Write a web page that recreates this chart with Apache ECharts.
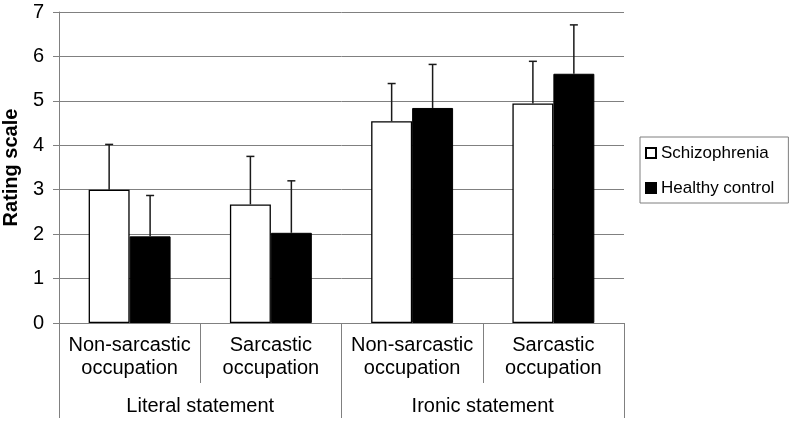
<!DOCTYPE html>
<html>
<head>
<meta charset="utf-8">
<script src="https://cdn.jsdelivr.net/npm/echarts@6/dist/echarts.min.js"></script>
<style>
html,body{margin:0;padding:0;background:#fff;}
#chart{width:794px;height:423px;}
</style>
</head>
<body>
<div id="chart"></div>
<script>
const categories = ['Non-sarcastic\noccupation', 'Sarcastic\noccupation', 'Non-sarcastic\noccupation', 'Sarcastic\noccupation'];
const groups = ['Literal statement', 'Ironic statement'];
const seriesNames = ['Schizophrenia', 'Healthy control'];
const schizophrenia = [3.00, 2.67, 4.54, 4.94];
const healthy = [1.95, 2.03, 4.84, 5.61];
const schizophreniaSD = [1.02, 1.08, 0.85, 0.95];
const healthySD = [0.92, 1.17, 0.98, 1.10];
const yTicks = [0, 1, 2, 3, 4, 5, 6, 7];

const FONT = '"Liberation Sans", Arial, sans-serif';
const CAT_GAP = 0.42;

function errorSeries(values, sds, side) {
  return {
    type: 'custom',
    xAxisIndex: 0,
    z: 5,
    silent: true,
    data: values.map((v, i) => [i, v, v + sds[i]]),
    renderItem: function (params, api) {
      const base = api.coord([api.value(0), api.value(1)]);
      const top = api.coord([api.value(0), api.value(2)]);
      const band = api.size([1, 0])[0];
      const barW = band * (1 - CAT_GAP) / 2;
      const x = base[0] + side * barW / 2;
      const cap = 4;
      const style = { stroke: '#1a1a1a', lineWidth: 1.5, fill: null };
      return {
        type: 'group',
        children: [
          { type: 'line', shape: { x1: x, y1: base[1], x2: x, y2: top[1] }, style: style },
          { type: 'line', shape: { x1: x - cap, y1: top[1], x2: x + cap, y2: top[1] }, style: style }
        ]
      };
    }
  };
}

const chart = echarts.init(document.getElementById('chart'));
chart.setOption({
  animation: false,
  backgroundColor: '#fff',
  textStyle: { fontFamily: FONT },
  grid: { left: 59, right: 170, top: 12, bottom: 100, containLabel: false, outerBoundsMode: 'none' },
  legend: {
    orient: 'vertical',
    left: 640,
    top: 137,
    data: seriesNames,
    itemWidth: 10,
    itemHeight: 10,
    itemGap: 15,
    padding: [6, 14, 5, 5],
    borderColor: '#7f7f7f',
    borderWidth: 1,
    icon: 'rect',
    textStyle: { fontFamily: FONT, fontSize: 17, color: '#000', lineHeight: 20 }
  },
  xAxis: [
    {
      type: 'category',
      data: categories,
      position: 'bottom',
      axisLine: { show: true, lineStyle: { color: '#808080', width: 1 } },
      axisTick: { show: true, interval: 0, length: 60, lineStyle: { color: '#808080', width: 1 } },
      axisLabel: { interval: 0, margin: 11, fontFamily: FONT, fontSize: 20, lineHeight: 23, color: '#000' },
      splitLine: { show: false }
    },
    {
      type: 'category',
      data: groups,
      position: 'bottom',
      axisLine: { show: false },
      axisTick: { show: true, interval: 0, length: 95, lineStyle: { color: '#808080', width: 1 } },
      axisLabel: { interval: 0, margin: 72, fontFamily: FONT, fontSize: 20, lineHeight: 23, color: '#000' },
      splitLine: { show: false }
    }
  ],
  yAxis: {
    type: 'value',
    min: yTicks[0],
    max: yTicks[yTicks.length - 1],
    interval: 1,
    name: 'Rating scale',
    nameLocation: 'middle',
    nameGap: 36,
    nameTextStyle: { fontFamily: FONT, fontSize: 20, fontWeight: 'bold', color: '#000' },
    axisLine: { show: true, lineStyle: { color: '#808080', width: 1 } },
    axisTick: { show: true, length: 6, lineStyle: { color: '#808080', width: 1 } },
    axisLabel: { margin: 15, fontFamily: FONT, fontSize: 20, color: '#000' },
    splitLine: { show: true, lineStyle: { color: '#808080', width: 1 } }
  },
  series: [
    {
      name: seriesNames[0],
      type: 'bar',
      xAxisIndex: 0,
      data: schizophrenia,
      barGap: '0%',
      barCategoryGap: (CAT_GAP * 100) + '%',
      itemStyle: { color: '#ffffff', borderColor: '#000', borderWidth: 1.3 }
    },
    {
      name: seriesNames[1],
      type: 'bar',
      xAxisIndex: 0,
      data: healthy,
      barGap: '0%',
      barCategoryGap: (CAT_GAP * 100) + '%',
      itemStyle: { color: '#000000', borderColor: '#000', borderWidth: 1 }
    },
    errorSeries(schizophrenia, schizophreniaSD, -1),
    errorSeries(healthy, healthySD, 1)
  ]
});
</script>
</body>
</html>
